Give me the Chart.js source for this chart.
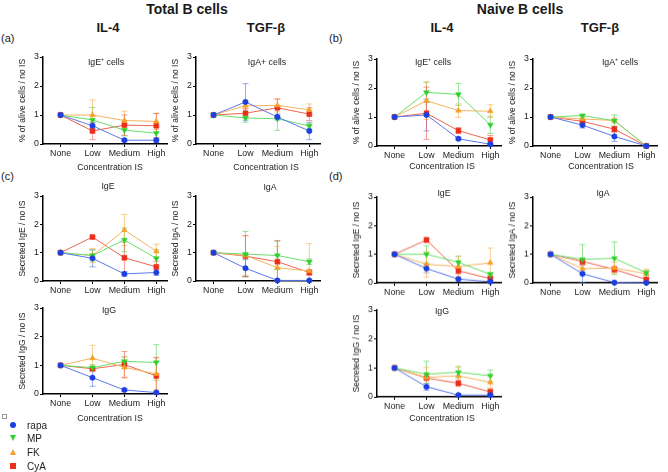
<!DOCTYPE html>
<html>
<head>
<meta charset="utf-8">
<script src="https://cdn.jsdelivr.net/npm/chart.js@4.4.1/dist/chart.umd.min.js"></script>
<style>
  html, body { margin:0; padding:0; background:#fff; }
  #fig { position:relative; width:668px; height:472px; overflow:hidden; font-family:"Liberation Sans", Arial, sans-serif; color:#1a1a1a; }
  .t { position:absolute; white-space:nowrap; transform:translate(-50%,-50%); line-height:1; }
  .h1 { font-size:14px; font-weight:bold; }
  .h2 { font-size:13px; font-weight:bold; }
  .pl { font-size:11px; transform:translate(0,-50%); }
  .st { font-size:8.8px; color:#222; }
  .cx { font-size:8.8px; color:#222; }
  .pnl { position:absolute; }
  .leg { position:absolute; font-size:10px; color:#222; transform:translate(0,-50%); }
  .mk { position:absolute; transform:translate(-50%,-50%); }
</style>
</head>
<body>
<div id="fig"></div>
<script>
// ---------------- data ----------------
const categories = ['None', 'Low', 'Medium', 'High'];
const seriesNames = ['rapa', 'MP', 'FK', 'CyA'];
const yTicks = [0, 1, 2, 3];

// each panel: rows in series order [rapa, MP, FK, CyA]; values per category
// (a) Total B cells, IL-4, IgE+ cells
const totalIgEcells    = [[1, 0.63, 0.13, 0.13], [1, 0.83, 0.48, 0.37], [1, 1.00, 0.81, 0.78], [1, 0.45, 0.65, 0.63]];
const totalIgEcellsErr = [[0, 0.10, 0.05, 0.08], [0, 0.43, 0.20, 0.20], [0, 0.52, 0.32, 0.28], [0, 0.30, 0.35, 0.42]];
// (a) Total B cells, TGF-beta, IgA+ cells
const totalIgAcells    = [[1, 1.45, 0.93, 0.45], [1, 0.90, 0.87, 0.62], [1, 1.32, 1.33, 1.18], [1, 1.06, 1.25, 1.03]];
const totalIgAcellsErr = [[0, 0.63, 0.10, 0.30], [0, 0.15, 0.40, 0.10], [0, 0.10, 0.22, 0.20], [0, 0.15, 0.30, 0.22]];
// (b) Naive B cells, IL-4, IgE+ cells
const naiveIgEcells    = [[1, 1.07, 0.25, 0.06], [1, 1.85, 1.78, 0.73], [1, 1.56, 1.22, 1.20], [1, 1.13, 0.53, 0.21]];
const naiveIgEcellsErr = [[0, 0.55, 0.05, 0.03], [0, 0.35, 0.38, 0.30], [0, 0.65, 0.23, 0.22], [0, 0.90, 0.10, 0.15]];
// (b) Naive B cells, TGF-beta, IgA+ cells
const naiveIgAcells    = [[1, 0.72, 0.33, 0.00], [1, 1.05, 0.87, 0.00], [1, 0.93, 0.88, 0.00], [1, 0.85, 0.58, 0.00]];
const naiveIgAcellsErr = [[0, 0.10, 0.17, 0.02], [0, 0.04, 0.20, 0.00], [0, 0.05, 0.08, 0.00], [0, 0.06, 0.10, 0.00]];
// (c) Total B cells, secreted IgE
const totalIgE    = [[1, 0.80, 0.25, 0.30], [1, 0.90, 1.45, 0.80], [1, 0.90, 1.80, 1.05], [1, 1.55, 0.82, 0.50]];
const totalIgEErr = [[0, 0.30, 0.08, 0.10], [0, 0.20, 0.42, 0.30], [0, 0.25, 0.55, 0.25], [0, 0.03, 0.55, 0.20]];
// (c) Total B cells, secreted IgA
const totalIgA    = [[1, 0.45, 0.02, 0.02], [1, 0.95, 0.90, 0.68], [1, 0.90, 0.47, 0.35], [1, 0.88, 0.68, 0.30]];
const totalIgAErr = [[0, 0.30, 0.02, 0.02], [0, 0.80, 0.50, 0.10], [0, 0.70, 0.75, 0.97], [0, 0.72, 0.75, 0.10]];
// (c) Total B cells, secreted IgG
const totalIgG    = [[1, 0.57, 0.14, 0.05], [1, 0.92, 1.14, 1.10], [1, 1.25, 0.93, 0.70], [1, 0.88, 1.03, 0.63]];
const totalIgGErr = [[0, 0.30, 0.05, 0.03], [0, 0.10, 0.15, 0.62], [0, 0.45, 0.38, 0.55], [0, 0.05, 0.45, 0.65]];
// (d) Naive B cells, secreted IgE
const naiveIgE    = [[1, 0.50, 0.13, 0.04], [1, 1.00, 0.72, 0.30], [1, 0.65, 0.57, 0.70], [1, 1.50, 0.42, 0.15]];
const naiveIgEErr = [[0, 0.15, 0.03, 0.02], [0, 0.30, 0.22, 0.05], [0, 0.45, 0.35, 0.52], [0, 0.08, 0.10, 0.05]];
// (d) Naive B cells, secreted IgA
const naiveIgA    = [[1, 0.32, 0.01, 0.00], [1, 0.82, 0.86, 0.35], [1, 0.50, 0.52, 0.32], [1, 0.75, 0.47, 0.12]];
const naiveIgAErr = [[0, 0.30, 0.02, 0.00], [0, 0.52, 0.57, 0.08], [0, 0.15, 0.20, 0.15], [0, 0.10, 0.10, 0.05]];
// (d) Naive B cells, secreted IgG
const naiveIgG    = [[1, 0.35, 0.06, 0.06], [1, 0.78, 0.85, 0.73], [1, 0.67, 0.73, 0.50], [1, 0.65, 0.47, 0.17]];
const naiveIgGErr = [[0, 0.12, 0.02, 0.02], [0, 0.45, 0.20, 0.20], [0, 0.35, 0.30, 0.20], [0, 0.05, 0.10, 0.10]];

// ---------------- styles ----------------
const FONT = '"Liberation Sans", Arial, sans-serif';
const markerColors = ['#1c3fe0', '#2fd12f', '#f5a02a', '#ea2f1a'];
const lineColors   = ['#5b78ea', '#6ade6a', '#f5b460', '#ee6450'];
const errColors    = ['rgba(70,100,230,0.55)', 'rgba(80,210,80,0.6)', 'rgba(245,170,70,0.6)', 'rgba(235,80,60,0.55)'];
const pointStyles  = ['circle', 'triangle', 'triangle', 'rect'];
const pointRots    = [0, 180, 0, 0];
const pointRadii   = [2.7, 3.3, 3.3, 3.5];

const fig = document.getElementById('fig');
function text(cls, str, x, y, extra) {
  const d = document.createElement('div');
  d.className = cls; d.textContent = str;
  d.style.left = x + 'px'; d.style.top = y + 'px';
  if (extra) Object.assign(d.style, extra);
  fig.appendChild(d);
  return d;
}

const errorBars = {
  id: 'errorBars',
  beforeDatasetsDraw(chart) {
    const { ctx, scales: { x, y } } = chart;
    chart.data.datasets.forEach((ds, k) => {
      ctx.save();
      ctx.strokeStyle = errColors[k];
      ctx.lineWidth = 1;
      ds.data.forEach((p, i) => {
        const e = ds.err[i];
        if (!e) return;
        const px = x.getPixelForValue(p.x);
        const yt = y.getPixelForValue(p.y + e);
        const yb = y.getPixelForValue(Math.max(0, p.y - e));
        ctx.beginPath();
        ctx.moveTo(px, yt); ctx.lineTo(px, yb);
        ctx.moveTo(px - 3, yt); ctx.lineTo(px + 3, yt);
        ctx.moveTo(px - 3, yb); ctx.lineTo(px + 3, yb);
        ctx.stroke();
      });
      ctx.restore();
    });
  }
};

function panel(axisX, topY, bottomY, yTitle, means, errs) {
  const padTop = 8, yW = 25, xH = 20, plotW = 125, padR = 4;
  const w = yW + plotW + padR, h = padTop + (bottomY - topY) + xH;
  const c = document.createElement('canvas');
  c.width = w; c.height = h;
  c.className = 'pnl';
  c.style.left = (axisX - yW) + 'px';
  c.style.top = (topY - padTop) + 'px';
  c.style.width = w + 'px'; c.style.height = h + 'px';
  fig.appendChild(c);
  const tickFont = { family: FONT, size: 8.8 };
  new Chart(c, {
    type: 'line',
    data: {
      datasets: seriesNames.map((name, k) => ({
        label: name,
        data: means[k].map((v, i) => ({ x: i, y: v })),
        err: errs[k],
        borderColor: lineColors[k],
        backgroundColor: markerColors[k],
        pointBackgroundColor: markerColors[k],
        pointBorderColor: markerColors[k],
        pointBorderWidth: 0.5,
        pointStyle: pointStyles[k],
        pointRotation: pointRots[k],
        pointRadius: pointRadii[k],
        borderWidth: 1,
        tension: 0,
        clip: false
      }))
    },
    options: {
      responsive: false,
      animation: false,
      devicePixelRatio: 1,
      layout: { padding: { top: padTop, right: padR, left: 0, bottom: 0 } },
      plugins: { legend: { display: false }, tooltip: { enabled: false } },
      scales: {
        x: {
          type: 'linear', min: -0.55, max: 3.35,
          afterBuildTicks: s => { s.ticks = categories.map((cat, i) => ({ value: i })); },
          afterFit: s => { s.height = xH; },
          ticks: { callback: v => categories[v], font: tickFont, color: '#222', padding: 1, maxRotation: 0, autoSkip: false },
          grid: { drawOnChartArea: false, drawTicks: true, tickLength: 3, color: '#000', lineWidth: 1 },
          border: { display: true, color: '#000', width: 1.5 }
        },
        y: {
          min: 0, max: 3,
          afterBuildTicks: s => { s.ticks = yTicks.map(v => ({ value: v })); },
          afterFit: s => { s.width = yW; },
          ticks: { font: tickFont, color: '#222', padding: 1 },
          grid: { drawOnChartArea: false, drawTicks: true, tickLength: 3, color: '#000', lineWidth: 1 },
          border: { display: true, color: '#000', width: 1.5 },
          title: { display: true, text: yTitle, font: { family: FONT, size: 8.5 }, color: '#222', padding: 0 }
        }
      }
    },
    plugins: [errorBars]
  });
}

// ---------------- headings ----------------
text('t h1', 'Total B cells', 187, 9);
text('t h1', 'Naive B cells', 520, 9);
text('t h2', 'IL-4', 108, 27);
text('t h2', 'TGF-β', 266, 27);
text('t h2', 'IL-4', 442, 27);
text('t h2', 'TGF-β', 600, 27);
text('t pl', '(a)', 1, 38);
text('t pl', '(b)', 329, 38);
text('t pl', '(c)', 1, 176);
text('t pl', '(d)', 329, 176);

// ---------------- panels ----------------
const aliveTitle = '% of alive cells / no IS';
panel(43, 57, 144, aliveTitle, totalIgEcells, totalIgEcellsErr);
panel(196, 57, 144, aliveTitle, totalIgAcells, totalIgAcellsErr);
panel(377, 58.5, 146, aliveTitle, naiveIgEcells, naiveIgEcellsErr);
panel(533, 58.5, 146, aliveTitle, naiveIgAcells, naiveIgAcellsErr);
panel(43, 196, 281, 'Secreted IgE / no IS', totalIgE, totalIgEErr);
panel(196, 196, 281, 'Secreted IgA / no IS', totalIgA, totalIgAErr);
panel(377, 197, 282.5, 'Secreted IgE / no IS', naiveIgE, naiveIgEErr);
panel(533, 197, 282.5, 'Secreted IgA / no IS', naiveIgA, naiveIgAErr);
panel(43, 308, 394, 'Secreted IgG / no IS', totalIgG, totalIgGErr);
panel(377, 310, 396.5, 'Secreted IgG / no IS', naiveIgG, naiveIgGErr);

// panel titles
text('t st', 'IgE⁺ cells', 106, 62);
text('t st', 'IgA+ cells', 267, 62);
text('t st', 'IgE⁺ cells', 433, 62);
text('t st', 'IgA⁺ cells', 620, 62);
text('t st', 'IgE', 108, 186);
text('t st', 'IgA', 270, 187);
text('t st', 'IgE', 444, 193);
text('t st', 'IgA', 603, 193);
text('t st', 'IgG', 109, 310);
text('t st', 'IgG', 442, 311);

// x axis titles
text('t cx', 'Concentration IS', 110, 167);
text('t cx', 'Concentration IS', 266, 167);
text('t cx', 'Concentration IS', 442, 166);
text('t cx', 'Concentration IS', 601, 166);
text('t cx', 'Concentration IS', 110, 418);
text('t cx', 'Concentration IS', 442, 418);

// ---------------- legend ----------------
const tiny = document.createElement('div');
Object.assign(tiny.style, { position: 'absolute', left: '2px', top: '414px', width: '3px', height: '3px', border: '0.5px solid #999' });
fig.appendChild(tiny);
const legY = [425, 438, 452, 466];
seriesNames.forEach((name, k) => {
  const m = document.createElement('div');
  m.className = 'mk';
  m.style.left = '13px'; m.style.top = legY[k] + 'px';
  const col = markerColors[k];
  if (k === 0) Object.assign(m.style, { width: '6px', height: '6px', borderRadius: '50%', background: col });
  if (k === 1) Object.assign(m.style, { width: 0, height: 0, borderLeft: '3.5px solid transparent', borderRight: '3.5px solid transparent', borderTop: '6px solid ' + col });
  if (k === 2) Object.assign(m.style, { width: 0, height: 0, borderLeft: '3.5px solid transparent', borderRight: '3.5px solid transparent', borderBottom: '6px solid ' + col });
  if (k === 3) Object.assign(m.style, { width: '6px', height: '6px', background: col });
  fig.appendChild(m);
  text('leg', name, 27, legY[k]);
});
</script>
</body>
</html>
